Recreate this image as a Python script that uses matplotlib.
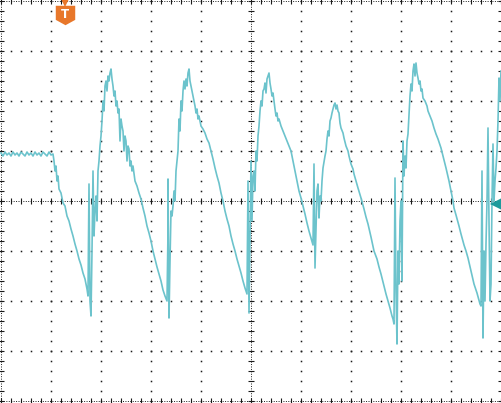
import numpy as np
import matplotlib
matplotlib.use("Agg")
import matplotlib.pyplot as plt
from matplotlib.path import Path

# ---- data (time in units where 50 = 1 division, level: 50 = 1 division) ----
flat_time = list(range(0, 54, 2))
flat_level = [48, 45, 49, 46, 48, 45, 49, 46, 48, 45, 49, 47, 45, 49, 46, 48,
              45, 49, 46, 48, 45, 49, 47, 45, 49, 46, 47]

wave_time = [53, 54, 55, 56, 57, 58, 60, 62, 64, 66, 68, 70, 72, 74, 76, 78, 80, 82, 84, 86,
             87, 88, 89, 90, 91, 92, 93, 94, 95, 96, 97, 98, 99, 100, 101, 102, 103, 104, 105,
             106, 107, 108, 109, 110, 111, 112, 113, 114, 115, 116, 117, 118, 119, 120, 121,
             122, 123, 124, 125, 126, 127, 128, 129, 130, 131, 132, 134, 136, 138, 140, 142,
             144, 146, 148, 150, 152, 154, 156, 158, 160, 162, 164, 166, 167, 167, 168, 169,
             170, 171, 172, 173, 174, 175, 176, 177, 178, 179, 180, 181, 182, 183, 184, 185,
             186, 187, 188, 189, 190, 191, 192, 193, 194, 195, 196, 197, 198, 200, 202, 204,
             206, 208, 210, 212, 214, 216, 218, 220, 222, 224, 226, 228, 230, 232, 234, 236,
             238, 240, 242, 244, 246, 247, 248, 249, 250, 251, 252, 253, 254, 255, 256, 257,
             258, 259, 260, 261, 262, 263, 264, 265, 266, 267, 268, 269, 270, 271, 272, 273,
             274, 275, 276, 277, 278, 280, 282, 284, 286, 288, 290, 292, 294, 296, 298, 300,
             302, 304, 306, 308, 310, 312, 313, 314, 315, 316, 317, 318, 319, 320, 321, 322,
             324, 325, 326, 327, 328, 329, 330, 331, 332, 333, 334, 335, 336, 337, 338, 339,
             340, 342, 343, 345, 347, 348, 350, 352, 353, 355, 357, 360, 363, 365, 367, 370,
             373, 376, 378, 380, 383, 385, 387, 389, 391, 392, 393, 394, 395, 396, 397, 398,
             399, 400, 401, 402, 403, 404, 405, 406, 407, 408, 409, 410, 411, 412, 413, 414,
             415, 416, 417, 418, 419, 420, 421, 422, 424, 426, 427, 429, 431, 433, 435, 437,
             440, 442, 445, 448, 450, 452, 453, 455, 458, 460, 463, 465, 467, 470, 473, 476,
             479, 480, 481, 482, 483, 484, 485, 486, 487, 488, 489, 490, 491, 492, 493, 494,
             495, 496, 497, 498, 499, 500]
wave_level = [40, 30, 35, 20, 25, 12, 8, -2, -5, -15, -20, -28, -35, -43, -50, -58, -64, -72, -78, -88,
              -95, 17, -100, -115, -50, 30, -35, -10, 5, -20, 30, 40, 55, 65, 80, 100, 90, 115, 120,
              110, 125, 120, 128, 132, 122, 115, 105, 110, 95, 100, 88, 92, 60, 82, 75,
              70, 50, 65, 60, 40, 55, 52, 35, 40, 30, 35, 20, 15, 8, 2, -7,
              -15, -25, -32, -40, -50, -58, -66, -73, -80, -89, -95, -100, -30, 22, -117, -60,
              -10, -15, -5, 10, 0, 30, 40, 50, 82, 70, 100, 90, 110, 120, 112, 122,
              115, 128, 132, 120, 115, 110, 105, 100, 95, 88, 92, 82, 85, 75, 72, 68,
              62, 58, 50, 42, 33, 25, 18, 8, 0, -10, -18, -25, -35, -43, -50, -58,
              -65, -72, -80, -87, -93, 20, -112, -40, 40, -20, 25, 30, 10, 50, 40, 65,
              75, 90, 100, 95, 110, 112, 118, 108, 122, 125, 128, 118, 112, 105, 108, 100,
              92, 85, 88, 80, 82, 75, 70, 65, 60, 55, 50, 40, 30, 20, 10, 3,
              -5, -13, -22, -30, -37, -44, 37, -67, -30, 10, 17, -17, 5, 0, 20, 33,
              45, 50, 62, 70, 65, 80, 83, 88, 92, 96, 98, 92, 96, 90, 88, 78,
              73, 68, 63, 55, 50, 45, 37, 32, 27, 20, 13, 3, -8, -16, -23, -36,
              -50, -58, -66, -73, -85, -93, -100, -107, -115, -118, -123, 23, -90, -143, -50, -83,
              -20, 0, -80, 60, 25, 45, 33, 60, 67, 85, 105, 117, 110, 130, 137, 125,
              138, 128, 123, 117, 120, 110, 112, 103, 100, 95, 90, 85, 80, 73, 67, 62,
              53, 45, 33, 20, 10, 0, -7, -14, -25, -33, -44, -50, -57, -70, -83, -92,
              -103, -105, 30, -137, -50, -100, -43, 0, 73, -20, -100, -83, 0, 57, 0, 20,
              33, 50, 80, 123, 100, 130]

trigger_time = 63
trigger_level = -3

time = flat_time + wave_time
level = flat_level + wave_level

# ---- figure ----
fig = plt.figure(figsize=(5.02, 4.03), dpi=100)
ax = fig.add_axes([0, 0, 1, 1])
ax.set_xlim(-1, 501)
ax.set_ylim(-202, 201)
ax.axis("off")
fig.patch.set_facecolor("white")

dot = "#1a1a1a"
# graticule dots
for gx in range(50, 500, 50):
    if gx == 250:
        continue
    ys = np.arange(-200, 201, 10)
    ax.plot(np.full_like(ys, gx), ys, ls="none", marker="s", ms=1.1, mew=0, color=dot)
for gy in range(-150, 200, 50):
    if gy == 0:
        continue
    xs = np.arange(0, 501, 10)
    ax.plot(xs, np.full_like(xs, gy), ls="none", marker="s", ms=1.1, mew=0, color=dot)

# center axes: dense dotted with ticks
ax.plot([0, 500], [0, 0], ls=(0, (1, 1.5)), lw=0.7, color=dot)
ax.plot([250, 250], [-200, 200], ls=(0, (1, 1.5)), lw=0.7, color=dot)
tx = np.arange(0, 501, 10)
ax.plot(tx, np.zeros_like(tx), ls="none", marker="|", ms=4, mew=0.8, color=dot)
ty = np.arange(-200, 201, 10)
ax.plot(np.full_like(ty, 250), ty, ls="none", marker="_", ms=4, mew=0.8, color=dot)

# border
for xx in (0, 500):
    ax.plot([xx, xx], [-200, 200], ls=(0, (1, 1.5)), lw=0.7, color=dot)
    ax.plot(np.full_like(ty, xx), ty, ls="none", marker="_", ms=4, mew=0.8, color=dot)
for yy in (-200, 200):
    ax.plot([0, 500], [yy, yy], ls=(0, (1, 1.5)), lw=0.7, color=dot)
    ax.plot(tx, np.full_like(tx, yy), ls="none", marker="|", ms=4, mew=0.8, color=dot)

# trace
ax.plot(time, level, color="#6cc3cc", lw=1.2, solid_joinstyle="round", zorder=5)

# trigger position marker (orange)
orange = "#e8772a"
ax.plot(trigger_time + 1, 198.5, marker="v", ms=6, mew=0, color=orange, zorder=6)
shield = Path([(-1, 1), (1, 1), (1, -0.45), (0, -1), (-1, -0.45), (-1, 1)],
              [Path.MOVETO, Path.LINETO, Path.LINETO, Path.LINETO, Path.LINETO, Path.CLOSEPOLY])
ax.plot(trigger_time + 1, 186, marker=shield, ms=14, mew=0, color=orange, zorder=6)
ax.text(trigger_time + 1, 187, "T", color="white", fontsize=8.5, fontweight="bold",
        ha="center", va="center", zorder=7, family="DejaVu Sans")

# trigger level marker (teal arrow at right)
ax.plot(495, trigger_level, marker="<", ms=8, mew=0, color="#1e9a9c", zorder=6)
ax.plot([495, 501], [trigger_level, trigger_level], color="#1e9a9c", lw=1.2, zorder=6)

fig.savefig("out.png", dpi=100, facecolor="white")
